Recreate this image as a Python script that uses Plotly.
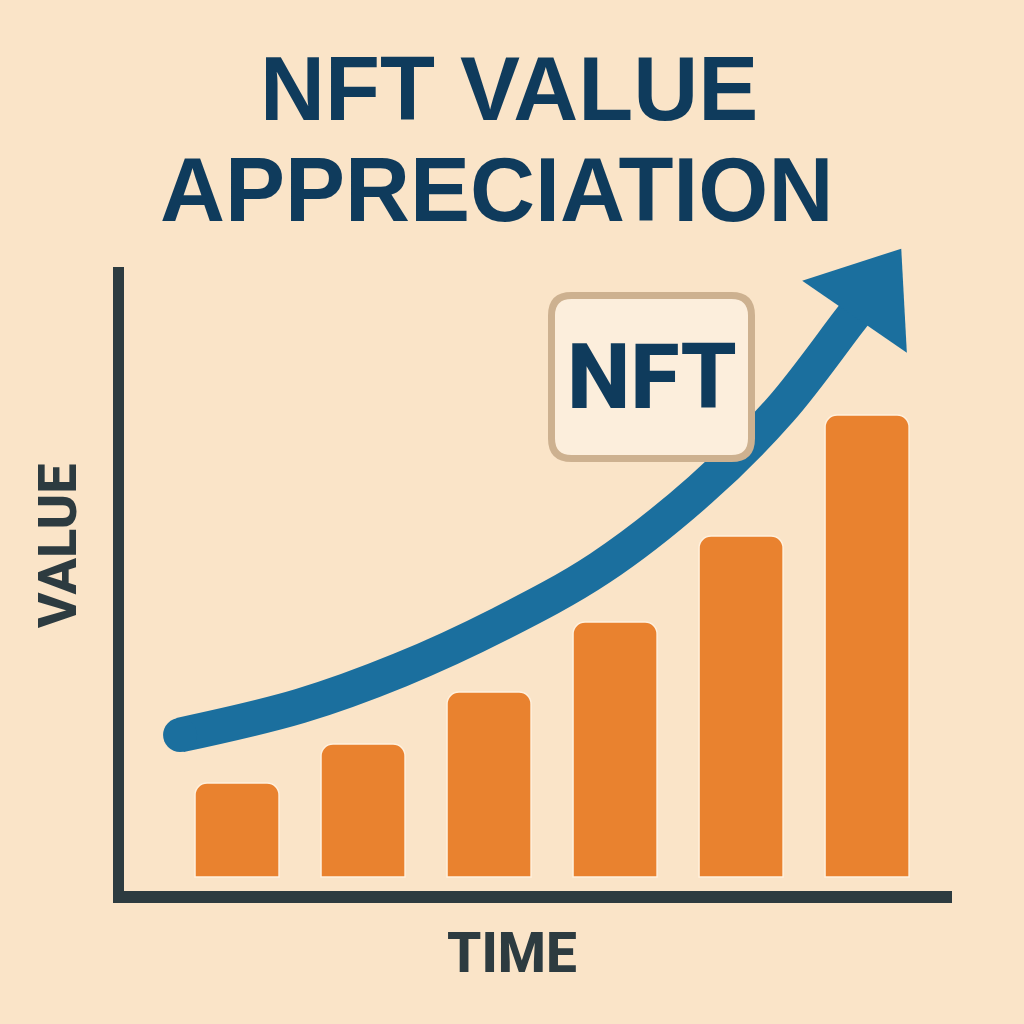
import plotly.graph_objects as go

# ---------------- data ----------------
periods = [1, 2, 3, 4, 5, 6]
values = [0.94, 1.33, 1.85, 2.55, 3.41, 4.62]

# trend arrow (centre line, in data units); last point = arrow head
trend_x = [0.548, 1.500, 2.294, 3.087, 3.881, 4.675, 5.310, 5.857, 6.024]
trend_y = [1.42, 1.71, 2.07, 2.53, 3.09, 3.87, 4.67, 5.56, 5.83]

title_lines = ["NFT VALUE", "APPRECIATION"]
x_label = "TIME"
y_label = "VALUE"
badge_text = "NFT"

# ---------------- style ----------------
BG = "#FAE4C8"
ORANGE = "#E9822F"
BLUE = "#1B6F9E"
NAVY = "#0F3B5C"
DARK = "#2D3B40"
FONT = "Roboto"
TITLE_FONT = "Liberation Sans"

W = H = 1024
L, R, T, B = 124, 72, 267, 133
PW, PH = W - L - R, H - T - B


def px_x(px):
    return (px - L) / PW


def px_y(py):
    return (H - B - py) / PH


fig = go.Figure()

fig.add_trace(go.Bar(
    x=periods, y=values, width=0.667,
    marker=dict(color=ORANGE, cornerradius=12,
                line=dict(color="#FFF1DE", width=1.5)),
    hoverinfo="skip",
))

n = len(trend_x)
sizes = [34] + [0] * (n - 2) + [110]
symbols = ["circle"] + ["circle"] * (n - 2) + ["triangle-up"]
angles = [0] * (n - 1) + [34.5]
fig.add_trace(go.Scatter(
    x=trend_x, y=trend_y, mode="lines+markers", cliponaxis=False,
    line=dict(color=BLUE, width=35, shape="spline", smoothing=1.0),
    marker=dict(color=BLUE, size=sizes, symbol=symbols, angle=angles,
                opacity=1, line=dict(width=0)),
    hoverinfo="skip",
))


def rrect(x0, y0, x1, y1, r):
    def p(x, y):
        return f"{px_x(x):.5f},{px_y(y):.5f}"
    return (f"M {p(x0 + r, y0)} L {p(x1 - r, y0)} Q {p(x1, y0)} {p(x1, y0 + r)} "
            f"L {p(x1, y1 - r)} Q {p(x1, y1)} {p(x1 - r, y1)} "
            f"L {p(x0 + r, y1)} Q {p(x0, y1)} {p(x0, y1 - r)} "
            f"L {p(x0, y0 + r)} Q {p(x0, y0)} {p(x0 + r, y0)} Z")


fig.add_shape(type="path", xref="paper", yref="paper",
              path=rrect(551.5, 295.5, 751.5, 458.5, 20),
              fillcolor="#FCEEDC", line=dict(color="#CDB190", width=7),
              layer="above")

ann = [
    dict(text=title_lines[0], x=px_x(509), y=px_y(88.5), size=90, color=NAVY,
         angle=0, fam=TITLE_FONT, w=700),
    dict(text=title_lines[1], x=px_x(496), y=px_y(189.5), size=90, color=NAVY,
         angle=0, fam=TITLE_FONT, w=700),
    dict(text=y_label, x=px_x(57), y=px_y(546), size=54, color=DARK, angle=-90,
         fam=FONT, w=800),
    dict(text=x_label, x=px_x(512), y=px_y(953), size=55, color=DARK, angle=0,
         fam=FONT, w=800),
    dict(text=badge_text, x=px_x(652), y=px_y(377), size=90, color=NAVY, angle=0,
         fam=FONT, w=800),
]
for a in ann:
    fig.add_annotation(text=a["text"], x=a["x"], y=a["y"], xref="paper", yref="paper",
                       xanchor="center", yanchor="middle", showarrow=False,
                       textangle=a["angle"],
                       font=dict(family=a["fam"], size=a["size"], color=a["color"],
                                 weight=a["w"]))

fig.update_layout(
    width=W, height=H,
    margin=dict(l=L, r=R, t=T, b=B),
    paper_bgcolor=BG, plot_bgcolor=BG,
    showlegend=False,
    xaxis=dict(range=[0.103, 6.674], showline=True, linecolor=DARK, linewidth=12,
               showgrid=False, zeroline=False, showticklabels=False, ticks="",
               fixedrange=True),
    yaxis=dict(range=[-0.14, 6.10], showline=True, linecolor=DARK, linewidth=11,
               showgrid=False, zeroline=False, showticklabels=False, ticks="",
               fixedrange=True),
)

fig.write_html("out.html", config={"displayModeBar": False, "staticPlot": True},
               post_script="document.body.style.margin='0';document.body.style.overflow='hidden';")
